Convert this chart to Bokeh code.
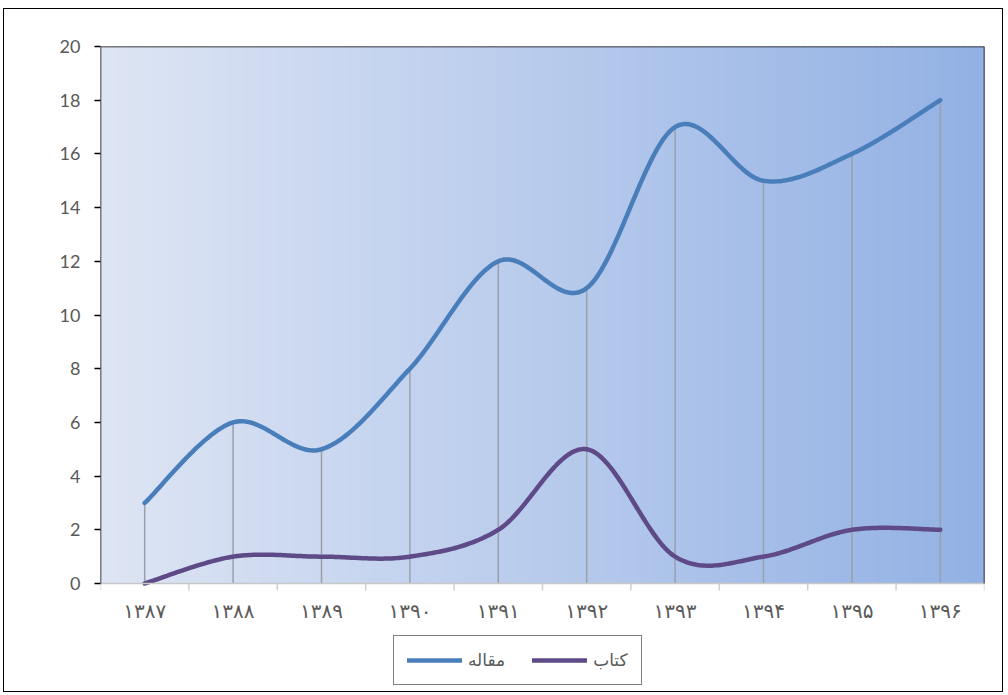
import numpy as np
from bokeh.plotting import figure
from bokeh.models import FixedTicker, Legend, LegendItem
from bokeh.core.properties import value
from bokeh.embed import file_html
from bokeh.resources import INLINE

# ---- data ----
years = ["۱۳۸۷", "۱۳۸۸", "۱۳۸۹", "۱۳۹۰", "۱۳۹۱", "۱۳۹۲", "۱۳۹۳", "۱۳۹۴", "۱۳۹۵", "۱۳۹۶"]
maqale = [3, 6, 5, 8, 12, 11, 17, 15, 16, 18]   # مقاله
ketab = [0, 1, 1, 1, 2, 5, 1, 1, 2, 2]          # کتاب
y_ticks = list(range(0, 21, 2))

BLUE = "#4A7EBB"
PURPLE = "#5D4A87"

xs = np.arange(1, len(years) + 1, dtype=float)


def smooth(x, y, n=40):
    """Excel-style smoothed line (Catmull-Rom Bezier through the points)."""
    x = np.asarray(x, float)
    y = np.asarray(y, float)
    px = np.concatenate([[x[0]], x, [x[-1]]])
    py = np.concatenate([[y[0]], y, [y[-1]]])
    outx, outy = [], []
    t = np.linspace(0, 1, n)
    for i in range(1, len(px) - 2):
        p0 = np.array([px[i], py[i]])
        p3 = np.array([px[i + 1], py[i + 1]])
        c1 = p0 + (np.array([px[i + 1], py[i + 1]]) - np.array([px[i - 1], py[i - 1]])) / 6
        c2 = p3 - (np.array([px[i + 2], py[i + 2]]) - np.array([px[i], py[i]])) / 6
        b = ((1 - t) ** 3)[:, None] * p0 + (3 * (1 - t) ** 2 * t)[:, None] * c1 \
            + (3 * (1 - t) * t ** 2)[:, None] * c2 + (t ** 3)[:, None] * p3
        outx.extend(b[:, 0]); outy.extend(b[:, 1])
    return outx, outy


# layout: the value axis spans 537 px; the frame continues below 0 to hold
# the category labels and the legend
W, H = 1000, 684
TOP, BOTTOM, LEFT, RIGHT = 37, 2, 96, 20
AXIS_PX = 537.0
ppu = AXIS_PX / 20.0
frame_h = H - TOP - BOTTOM
y_low = 20 - frame_h / ppu

x0 = 0.5
x1 = len(years) + 0.5

p = figure(width=W, height=H, output_backend="svg", toolbar_location=None,
           x_range=(x0, x1), y_range=(y_low, 20),
           min_border_left=LEFT, min_border_right=RIGHT, min_border_top=TOP, min_border_bottom=BOTTOM)
p.styles = {"border": "1.5px solid #000000", "margin-left": "3px", "margin-top": "8px"}
p.outline_line_color = None
p.background_fill_color = "white"
p.border_fill_color = "white"
p.xgrid.visible = False
p.ygrid.visible = False

# gradient background of the plot area
N = 160
edges = np.linspace(x0, x1, N + 1)
c_left = np.array([222, 229, 244])
c_right = np.array([146, 177, 228])
cols = []
for i in range(N):
    f = (i + 0.5) / N
    c = (c_left * (1 - f) + c_right * f).round().astype(int)
    cols.append("#%02x%02x%02x" % tuple(c))
p.quad(left=edges[:-1], right=edges[1:] + (x1 - x0) / N * 0.6, bottom=0, top=20,
       fill_color=cols, line_color=None)

# drop lines
top_vals = [max(a, b) for a, b in zip(maqale, ketab)]
p.segment(x0=xs, y0=0, x1=xs, y1=top_vals, line_color="#9A9FAA", line_width=1.5)

# lines
mx, my = smooth(xs, maqale)
kx, ky = smooth(xs, ketab)
r1 = p.line(mx, my, line_color=BLUE, line_width=4.5, line_cap="round", line_join="round")
r2 = p.line(kx, ky, line_color=PURPLE, line_width=4.5, line_cap="round", line_join="round")

# category axis (drawn at y = 0)
bounds = np.arange(x0, x1 + 0.01, 1.0)
p.segment(x0=[x0], y0=[0], x1=[x1], y1=[0], line_color="#C8C8C8", line_width=1.5)
p.segment(x0=bounds, y0=0, x1=bounds, y1=-7 / ppu, line_color="#D0D0D0", line_width=1.5)
p.text(x=xs, y=0, text=years, y_offset=27, text_align="center", text_baseline="middle",
       text_font=value("DejaVu Sans"), text_font_size="20px", text_color="#5A5A5A")

# frame top/right/left
p.segment(x0=[x0, x1, x0], y0=[20, 0, 0], x1=[x1, x1, x0], y1=[20, 20, 20],
          line_color="black", line_width=1.5)

# value axis
p.xaxis.visible = False
p.yaxis.ticker = FixedTicker(ticks=y_ticks)
p.yaxis.minor_tick_line_color = None
p.yaxis.axis_line_color = None
p.yaxis.major_tick_line_color = "black"
p.yaxis.major_tick_line_width = 1.5
p.yaxis.major_tick_out = 6
p.yaxis.major_tick_in = 0
p.yaxis.major_label_text_font = "Lato"
p.yaxis.major_label_text_font_size = "18px"
p.yaxis.major_label_text_color = "#595959"
p.yaxis.major_label_standoff = 14

legend = Legend(items=[LegendItem(label="مقاله", renderers=[r1]),
                       LegendItem(label="کتاب", renderers=[r2])],
                orientation="horizontal", location=(293, 6))
legend.border_line_color = "black"
legend.border_line_width = 1.5
legend.background_fill_color = "white"
legend.background_fill_alpha = 1.0
legend.glyph_width = 55
legend.glyph_height = 22
legend.label_text_font = "DejaVu Sans"
legend.label_text_font_size = "17px"
legend.label_text_color = "#595959"
legend.label_standoff = 6
legend.spacing = 27
legend.padding = 13
legend.margin = 0
p.add_layout(legend, "center")

open("out.html", "w").write(file_html(p, INLINE))
